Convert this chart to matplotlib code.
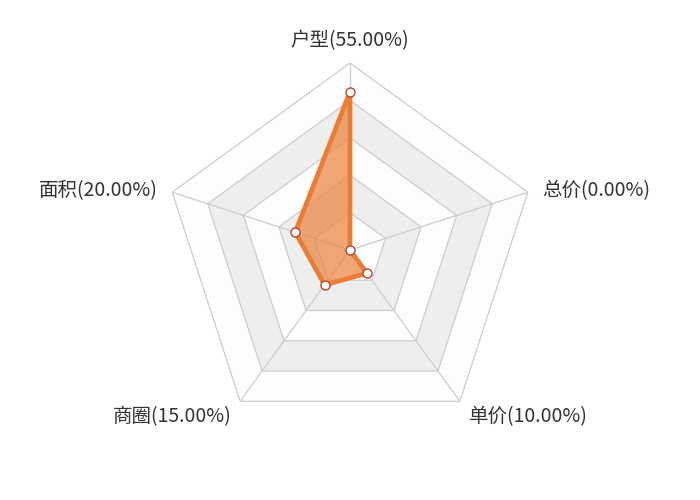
import numpy as np
import matplotlib
matplotlib.use("Agg")
import matplotlib.pyplot as plt

plt.rcParams['font.family'] = ['Noto Sans CJK SC', 'DejaVu Sans']

indicators = ["户型", "总价", "单价", "商圈", "面积"]
values = [55.0, 0.0, 10.0, 15.0, 20.0]
max_value = 65.0
split_number = 5

fig = plt.figure(figsize=(7, 5), dpi=100)
fig.patch.set_facecolor("white")
R_px = 187
cx, cy = 350, 250
w = 2 * R_px / 700
h = 2 * R_px / 500
ax = fig.add_axes([cx / 700 - w / 2, 1 - cy / 500 - h / 2, w, h], projection="polar")
ax.set_theta_zero_location("N")
ax.set_theta_direction(-1)
ax.set_ylim(0, max_value)
ax.set_facecolor("none")
ax.grid(False)
ax.spines["polar"].set_visible(False)
ax.set_xticks([])
ax.set_yticks([])

n = len(indicators)
theta = np.arange(n) * 2 * np.pi / n
theta_c = np.concatenate([theta, theta[:1]])

ring_colors = ["#fdfdfd", "#eeeeee"]
for k in range(split_number, 0, -1):
    r = max_value * k / split_number
    ax.fill(theta_c, [r] * (n + 1), color=ring_colors[(k - 1) % 2], lw=0, zorder=1)
    ax.plot(theta_c, [r] * (n + 1), color="#cccccc", lw=0.9, zorder=2)
for t in theta:
    ax.plot([t, t], [0, max_value], color="#cccccc", lw=0.9, zorder=2)

vals_c = values + values[:1]
ax.fill(theta_c, vals_c, color="#ec8540", alpha=0.72, lw=0, zorder=3)
ax.plot(theta_c, vals_c, color="#ea7d35", lw=3.4, zorder=4, solid_joinstyle="miter")
ax.plot(theta, values, linestyle="none", marker="o", markersize=6.5,
        markerfacecolor="white", markeredgecolor="#b8442a", markeredgewidth=1, zorder=5)

# labels, 15 px outside the outer vertex
px = 72 / 100
for name, v, t in zip(indicators, values, theta):
    s, c = np.sin(t), np.cos(t)
    ha = "center" if abs(s) < 0.1 else ("left" if s > 0 else "right")
    va = "bottom" if c > 0.9 else "center"
    ax.annotate(f"{name}({v:.2f}%)", xy=(t, max_value),
                xytext=(15 * s * px, (15 * c - 3.5) * px),
                textcoords="offset points", ha=ha, va=va,
                fontsize=14, color="#333333", zorder=6, annotation_clip=False)

fig.savefig("out.png", dpi=100, facecolor="white")
